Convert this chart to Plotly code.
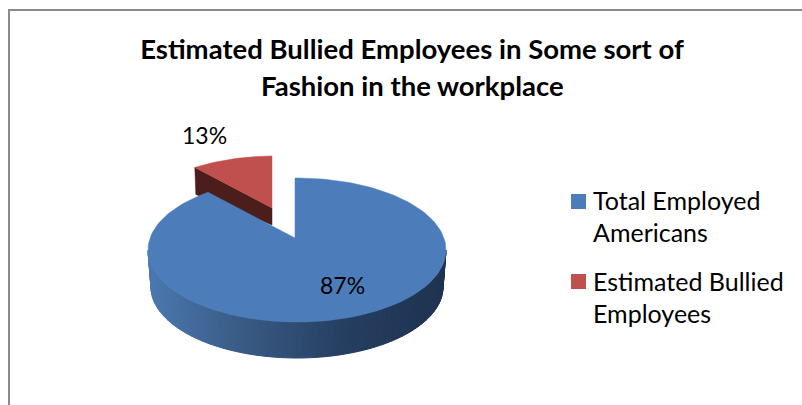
import math
import plotly.graph_objects as go

categories = ["Total Employed Americans", "Estimated Bullied Employees"]
values = [87, 13]
colors = ["#4C7DBA", "#C0504D"]
wall_dark_red = "#4B1E1B"
title_lines = ["Estimated Bullied Employees in Some sort of", "Fashion in the workplace"]
legend_lines = [["Total Employed", "Americans"], ["Estimated Bullied", "Employees"]]

# The page is laid out on a pixel-sized pair of axes.
W, H = 802, 405
K = 0.56  # vertical foreshortening of the tilted pie
FONT = "Lato"


def rim(apex, centre, rx, ry, theta):
    """Point where the ray from the apex at pie angle theta meets the perspective rim."""
    dx, dy = math.sin(theta), -math.cos(theta) * K
    ox, oy = (apex[0] - centre[0]) / rx, (apex[1] - centre[1]) / ry
    ux, uy = dx / rx, dy / ry
    a = ux * ux + uy * uy
    b = 2 * (ox * ux + oy * uy)
    c = ox * ox + oy * oy - 1
    s = (-b + math.sqrt(b * b - 4 * a * c)) / (2 * a)
    return apex[0] + s * dx, apex[1] + s * dy


def sector(apex, centre, rx, ry, start, sweep, n=160):
    pts = [rim(apex, centre, rx, ry, start + sweep * i / n) for i in range(n + 1)]
    return [apex[0]] + [p[0] for p in pts] + [apex[0]], [apex[1]] + [p[1] for p in pts] + [apex[1]]


def mix(x):
    stops = [(148, (0x4B, 0x79, 0xB0)), (240, (0x39, 0x5B, 0x85)), (347, (0x25, 0x3E, 0x60)), (446, (0x1E, 0x32, 0x50))]
    for (x0, c0), (x1, c1) in zip(stops, stops[1:]):
        if x <= x1:
            f = max(0, (x - x0) / (x1 - x0))
            return "rgb(%d,%d,%d)" % tuple(round(a + (b - a) * f) for a, b in zip(c0, c1))
    return "rgb(30,50,80)"


def poly(x, y, color, name, width=0.5):
    return go.Scatter(x=x, y=y, mode="lines", fill="toself", fillcolor=color,
                      line=dict(color=color, width=width), name=name,
                      hoverinfo="skip", showlegend=False)


total = sum(values)
big_sweep = 2 * math.pi * values[0] / total
small_sweep = 2 * math.pi * values[1] / total

fig = go.Figure()

# Detached small slice
r_apex, r_centre, r_rx, r_ry = (272, 208), (274, 219), 138, 63
rx_pts, ry_pts = sector(r_apex, r_centre, r_rx, r_ry, big_sweep, small_sweep)
far = rim(r_apex, r_centre, r_rx, r_ry, big_sweep)
fig.add_trace(poly([far[0], r_apex[0], r_apex[0], far[0] + 1, far[0]],
                   [far[1], r_apex[1], r_apex[1] + 17, far[1] + 27, far[1]],
                   wall_dark_red, categories[1] + " side"))
fig.add_trace(poly(rx_pts, ry_pts, colors[1], categories[1]))

# Outer wall of the large slice, shaded strip by strip
b_apex, b_centre, b_rx, b_ry = (295, 238), (297, 250), 149, 72
low_centre, low_rx, low_ry = (297, 287), 146, 71
strips = 90
for i in range(strips):
    t0 = math.pi * (1 - i / strips)
    t1 = math.pi * (1 - (i + 1) / strips)
    xs = [b_centre[0] + b_rx * math.cos(t0), b_centre[0] + b_rx * math.cos(t1),
          low_centre[0] + low_rx * math.cos(t1), low_centre[0] + low_rx * math.cos(t0)]
    ys = [b_centre[1] + b_ry * math.sin(t0), b_centre[1] + b_ry * math.sin(t1),
          low_centre[1] + low_ry * math.sin(t1), low_centre[1] + low_ry * math.sin(t0)]
    fig.add_trace(poly(xs + xs[:1], ys + ys[:1], mix(sum(xs) / 4), categories[0] + " side", 1))

bx, by = sector(b_apex, b_centre, b_rx, b_ry, 0, big_sweep)
fig.add_trace(poly(bx, by, colors[0], categories[0]))

# Legend swatches
for name, color, y in zip(categories, colors, (201.5, 281.5)):
    fig.add_trace(go.Scatter(x=[578.5], y=[y], mode="markers", name=name, showlegend=False,
                             marker=dict(symbol="square", size=15, color=color), hoverinfo="skip"))


def label(x, y, text, size, bold=False, anchor="center"):
    fig.add_annotation(x=x, y=y, xref="x", yref="y", text="<b>%s</b>" % text if bold else text,
                       showarrow=False, xanchor=anchor, yanchor="middle",
                       font=dict(family=FONT, size=size, color="#000000"))


label(342, 285, "%d%%" % values[0], 23)
label(204, 135, "%d%%" % values[1], 23)
label(412, 85, title_lines[1], 27.5, bold=True)

legend_y = [[200, 232], [281, 313]]
for lines, ys in zip(legend_lines, legend_y):
    for text, y in zip(lines, ys):
        label(591, y, text, 25, anchor="left")

fig.update_layout(
    width=W, height=H, margin=dict(l=0, r=0, t=0, b=0),
    paper_bgcolor="white", plot_bgcolor="white", showlegend=False,
    title=dict(text="<b>%s</b>" % title_lines[0], x=412 / W, xanchor="center",
               y=1 - 49 / H, yanchor="middle", font=dict(family=FONT, size=27.5, color="#000000")),
    xaxis=dict(range=[0, W], visible=False, fixedrange=True),
    yaxis=dict(range=[H, 0], visible=False, fixedrange=True),
    shapes=[dict(type="path", xref="paper", yref="paper",
                 path="M %f 0 L %f %f L 1 %f" % (9 / W, 9 / W, 1 - 10 / H, 1 - 10 / H),
                 line=dict(color="#8A8A8A", width=2))],
)

fig.write_html("out.html", config={"displayModeBar": False},
               post_script="document.body.style.margin='0';document.body.style.overflow='hidden';")
